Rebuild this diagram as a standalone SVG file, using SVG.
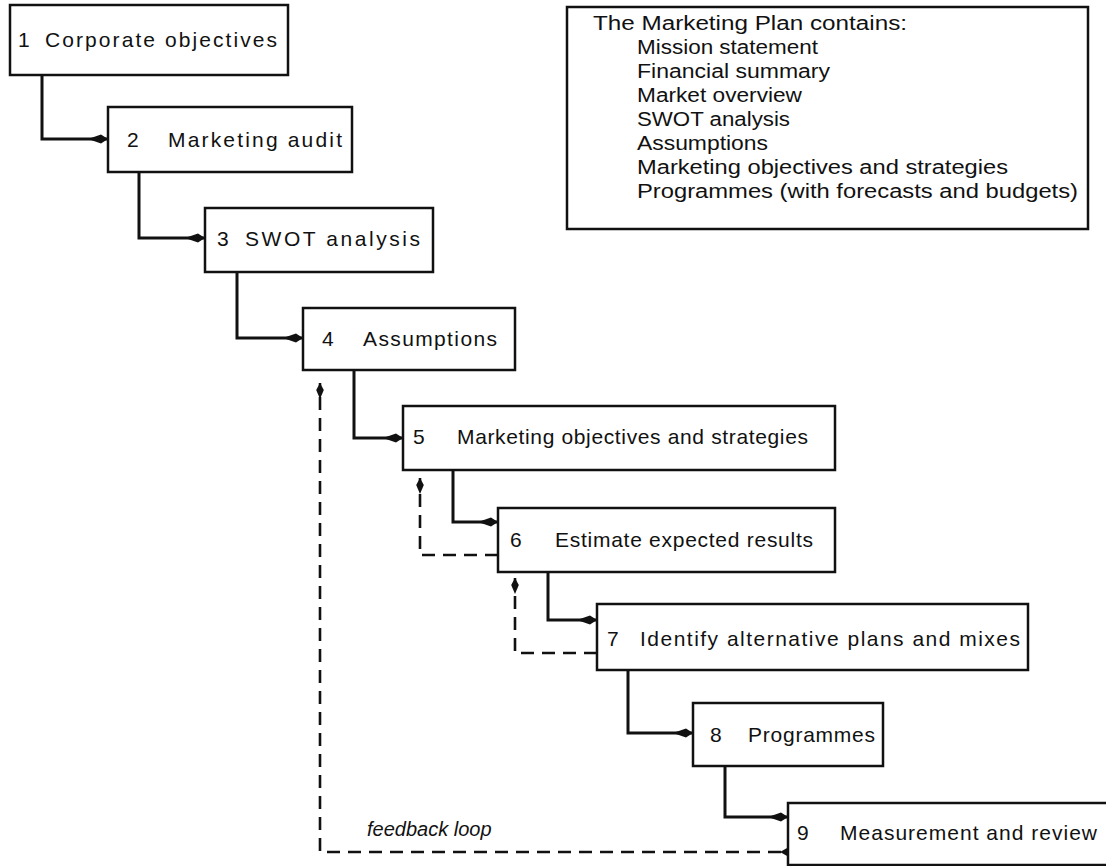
<svg xmlns="http://www.w3.org/2000/svg" width="1106" height="866" viewBox="0 0 1106 866">
  <style>
    .box { fill: #ffffff; stroke: #111111; stroke-width: 2.5; }
    .lbl { font-family: "Liberation Sans", Arial, sans-serif; font-size: 21px; fill: #111111; }
    .leg { font-family: "Liberation Sans", Arial, sans-serif; font-size: 20px; fill: #111111; }
    .note { font-family: "Liberation Sans", Arial, sans-serif; font-size: 20px; font-style: italic; fill: #111111; }
    .flow { fill: none; stroke: #111111; stroke-width: 3; stroke-linejoin: miter; }
    .back { fill: none; stroke: #111111; stroke-width: 2.6; stroke-dasharray: 13 8; }
  </style>
  <defs>
    <marker id="arrow" markerUnits="userSpaceOnUse" markerWidth="22" markerHeight="12" refX="20" refY="6" orient="auto" overflow="visible">
      <path d="M0,6 L13,1.5 L20,6 L13,10.5 Z" fill="#111111"/>
    </marker>
    <marker id="arrowSmall" markerUnits="userSpaceOnUse" markerWidth="18" markerHeight="10" refX="16" refY="5" orient="auto" overflow="visible">
      <path d="M0,5 L9,1.2 L16,5 L9,8.8 Z" fill="#111111"/>
    </marker>
  </defs>

  <!-- connectors -->
  <g id="connectors">
    <path class="flow" d="M42,75 V139 H108" marker-end="url(#arrow)"/>
    <path class="flow" d="M139,172 V238 H205" marker-end="url(#arrow)"/>
    <path class="flow" d="M237,272 V338 H303" marker-end="url(#arrow)"/>
    <path class="flow" d="M354,370 V438 H403" marker-end="url(#arrow)"/>
    <path class="flow" d="M453,470 V522 H498" marker-end="url(#arrow)"/>
    <path class="flow" d="M548,572 V620 H597" marker-end="url(#arrow)"/>
    <path class="flow" d="M628,670 V733 H693" marker-end="url(#arrow)"/>
    <path class="flow" d="M725,766 V817 H788" marker-end="url(#arrow)"/>

    <path class="back" d="M498,555 H420 V478" marker-end="url(#arrowSmall)"/>
    <path class="back" d="M597,653 H515 V578" marker-end="url(#arrowSmall)"/>
    <path class="back" d="M781,852 H320 V383" marker-end="url(#arrowSmall)"/>
    <polygon points="780,852 788,847.5 788,856.5" fill="#111111"/>
    <text class="note" x="367" y="836">feedback loop</text>
  </g>

  <!-- plan contents -->
  <g id="plan-contents">
    <rect class="box" x="567" y="7" width="521" height="222"/>
    <text class="leg" x="593" y="30" textLength="314" lengthAdjust="spacingAndGlyphs">The Marketing Plan contains:</text>
    <text class="leg" x="637" y="54" textLength="181" lengthAdjust="spacingAndGlyphs">Mission statement</text>
    <text class="leg" x="637" y="78" textLength="193" lengthAdjust="spacingAndGlyphs">Financial summary</text>
    <text class="leg" x="637" y="102" textLength="165" lengthAdjust="spacingAndGlyphs">Market overview</text>
    <text class="leg" x="637" y="126" textLength="153" lengthAdjust="spacingAndGlyphs">SWOT analysis</text>
    <text class="leg" x="637" y="150" textLength="131" lengthAdjust="spacingAndGlyphs">Assumptions</text>
    <text class="leg" x="637" y="174" textLength="371" lengthAdjust="spacingAndGlyphs">Marketing objectives and strategies</text>
    <text class="leg" x="637" y="198" textLength="441" lengthAdjust="spacingAndGlyphs">Programmes (with forecasts and budgets)</text>
  </g>

  <!-- planning steps -->
  <g id="step1">
    <rect class="box" x="10" y="5" width="278" height="70"/>
    <text class="lbl" x="18" y="47">1</text>
    <text class="lbl" x="45" y="47" textLength="232" lengthAdjust="spacing">Corporate objectives</text>
  </g>
  <g id="step2">
    <rect class="box" x="108" y="107" width="244" height="65"/>
    <text class="lbl" x="127" y="147">2</text>
    <text class="lbl" x="168" y="147" textLength="174" lengthAdjust="spacing">Marketing audit</text>
  </g>
  <g id="step3">
    <rect class="box" x="205" y="208" width="228" height="64"/>
    <text class="lbl" x="217" y="246">3</text>
    <text class="lbl" x="245" y="246" textLength="175" lengthAdjust="spacing">SWOT analysis</text>
  </g>
  <g id="step4">
    <rect class="box" x="303" y="308" width="212" height="62"/>
    <text class="lbl" x="322" y="346">4</text>
    <text class="lbl" x="363" y="346" textLength="134" lengthAdjust="spacing">Assumptions</text>
  </g>
  <g id="step5">
    <rect class="box" x="403" y="406" width="432" height="64"/>
    <text class="lbl" x="413" y="444">5</text>
    <text class="lbl" x="457" y="444" textLength="351" lengthAdjust="spacing">Marketing objectives and strategies</text>
  </g>
  <g id="step6">
    <rect class="box" x="498" y="508" width="337" height="64"/>
    <text class="lbl" x="510" y="547">6</text>
    <text class="lbl" x="555" y="547" textLength="258" lengthAdjust="spacing">Estimate expected results</text>
  </g>
  <g id="step7">
    <rect class="box" x="597" y="604" width="431" height="66"/>
    <text class="lbl" x="607" y="646">7</text>
    <text class="lbl" x="640" y="646" textLength="380" lengthAdjust="spacing">Identify alternative plans and mixes</text>
  </g>
  <g id="step8">
    <rect class="box" x="693" y="703" width="190" height="63"/>
    <text class="lbl" x="710" y="742">8</text>
    <text class="lbl" x="748" y="742" textLength="127" lengthAdjust="spacing">Programmes</text>
  </g>
  <g id="step9">
    <rect class="box" x="788" y="803" width="330" height="62"/>
    <text class="lbl" x="797" y="840">9</text>
    <text class="lbl" x="840" y="840" textLength="257" lengthAdjust="spacing">Measurement and review</text>
  </g>
</svg>
